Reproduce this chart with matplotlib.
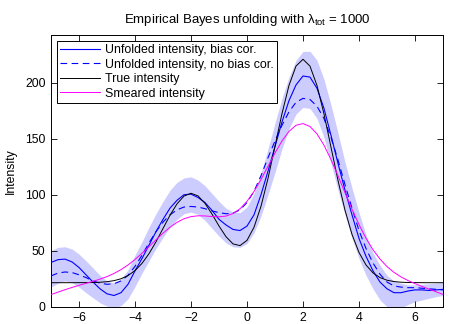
import numpy as np
import matplotlib
matplotlib.use("Agg")
import matplotlib.pyplot as plt

plt.rcParams['font.family'] = ['Liberation Sans', 'DejaVu Sans']

# grid of positions (step 0.25 from -7 to 7)
x_vals = [-7.0, -6.75, -6.5, -6.25, -6.0, -5.75, -5.5, -5.25, -5.0, -4.75, -4.5, -4.25,
          -4.0, -3.75, -3.5, -3.25, -3.0, -2.75, -2.5, -2.25, -2.0, -1.75, -1.5, -1.25,
          -1.0, -0.75, -0.5, -0.25, 0.0, 0.25, 0.5, 0.75, 1.0, 1.25, 1.5, 1.75, 2.0,
          2.25, 2.5, 2.75, 3.0, 3.25, 3.5, 3.75, 4.0, 4.25, 4.5, 4.75, 5.0, 5.25, 5.5,
          5.75, 6.0, 6.25, 6.5, 6.75, 7.0]

unfolded_bias_cor = [39.5, 42, 42.5, 40, 35, 28.5, 22, 16, 11.5, 10, 12.5, 20,
                     32, 43, 55, 67, 78, 88, 95, 100, 100.5, 97.5, 93, 86,
                     78, 73, 69, 68, 72, 82, 100, 121, 143, 165, 184, 198, 206,
                     205, 195, 177, 153, 128, 104, 82, 61, 45, 32, 22, 16, 12.5, 12.5,
                     14, 15, 15, 14.5, 15, 15.5]

unfolded_no_bias_cor = [27.5, 30, 31, 30.5, 28.5, 26, 23, 21, 20, 20.5, 23, 28,
                        36, 46, 57, 67, 75.5, 82, 86.5, 89, 89.5, 89, 87.5, 85.5,
                        84, 83, 83.5, 86.5, 93, 103, 117, 133, 148, 162, 174, 182.5, 186,
                        185, 179, 168, 151, 131, 109, 88, 68, 52, 39, 29, 22, 18.5, 17.5,
                        17, 17, 16.5, 16, 15.5, 15]

band_lower = [17.5, 21, 23, 21.5, 17.5, 12.5, 8, 3.5, 0.5, -1, 1, 7,
              18, 30, 41, 52, 62, 71, 78, 83, 84.5, 82.5, 77, 70,
              63, 57, 53.5, 53, 56.5, 66, 81, 100, 120, 141, 159, 172, 178,
              177, 168, 151, 128, 104, 82, 61, 43, 28, 16, 6, 0, -2, -1.5,
              2, 4.5, 6, 7.5, 9, 10]

band_upper = [50, 53, 53.5, 51.5, 47, 41, 34.5, 28, 23, 21, 24.5, 33,
              46, 58, 71, 83, 94, 104, 111, 115, 116, 113, 108, 101,
              94, 88, 84.5, 84, 89, 101, 119, 141, 164, 186, 205, 220, 228,
              228, 220, 203, 180, 155, 129, 106, 84, 64, 48, 37, 28, 23, 21,
              19.5, 19.5, 20, 20.5, 21, 21.5]

true_intensity = [21.43, 21.43, 21.43, 21.44, 21.46, 21.50, 21.60, 21.84, 22.32, 23.25, 24.94, 27.78,
                  32.23, 38.69, 47.33, 57.96, 69.82, 81.66, 91.84, 98.78, 101.29, 98.94, 92.28, 82.68,
                  72.04, 62.51, 56.09, 54.56, 59.23, 70.92, 89.70, 114.58, 143.31, 172.41, 197.64, 214.84, 220.93,
                  214.78, 197.47, 172.00, 142.42, 112.76, 86.19, 64.57, 48.43, 37.30, 30.19, 25.98, 23.65, 22.45, 21.87,
                  21.61, 21.50, 21.45, 21.43, 21.43, 21.43]

smeared_intensity = [10.82, 13.03, 15.18, 17.19, 19.06, 20.85, 22.64, 24.60, 26.89, 29.69, 33.13, 37.28,
                     42.16, 47.68, 53.65, 59.75, 65.64, 70.95, 75.32, 78.52, 80.43, 81.17, 81.03, 80.52,
                     80.24, 80.92, 83.15, 87.42, 94.08, 102.89, 113.63, 125.39, 137.23, 148.01, 156.57, 161.97, 163.51,
                     160.91, 154.29, 144.18, 131.39, 116.93, 101.83, 86.98, 73.29, 61.14, 50.87, 42.48, 35.81, 30.64, 26.60,
                     23.36, 20.61, 18.11, 15.71, 13.33, 10.98]

x_ticks = [-6, -4, -2, 0, 2, 4, 6]
y_ticks = [0, 50, 100, 150, 200]

fig = plt.figure(figsize=(4.52, 3.24), dpi=100)
ax = fig.add_axes([51/452, 1 - 306.7/324, (443-51)/452, (306.7-35)/324])

ax.fill_between(x_vals, band_lower, band_upper, color=(0.8, 0.8, 1.0), linewidth=0, zorder=1)
ax.plot(x_vals, unfolded_bias_cor, color=(0, 0, 1), lw=0.8, label='Unfolded intensity, bias cor.', zorder=3)
ax.plot(x_vals, unfolded_no_bias_cor, color=(0, 0, 1), lw=0.8, ls=(0, (6, 4)),
        label='Unfolded intensity, no bias cor.', zorder=3)
ax.plot(x_vals, true_intensity, color='k', lw=0.7, label='True intensity', zorder=3)
ax.plot(x_vals, smeared_intensity, color=(1, 0, 1), lw=0.7, label='Smeared intensity', zorder=3)

ax.set_xlim(-7, 7)
ax.set_ylim(0, 242.6)
ax.set_xticks(x_ticks)
ax.set_yticks(y_ticks)
ax.set_xticklabels([str(t) if t >= 0 else '\u2212' + str(-t) for t in x_ticks])
ax.tick_params(direction='in', top=True, right=True, length=4, width=0.6, labelsize=8.8, pad=4)
for s in ax.spines.values():
    s.set_linewidth(0.7)

ax.set_ylabel('Intensity', fontsize=8.8, labelpad=6)
ax.set_title('Empirical Bayes unfolding with $\\mathregular{\\lambda_{tot}}$ = 1000', fontsize=9.5, pad=9)

leg = ax.legend(loc='upper left', fontsize=8.9, frameon=True, fancybox=False, framealpha=1,
                edgecolor='k', handlelength=3.2, handletextpad=0.4, borderpad=0.25,
                labelspacing=0.2, borderaxespad=0.5)
leg.get_frame().set_linewidth(0.7)

fig.savefig('out.png', dpi=100)
